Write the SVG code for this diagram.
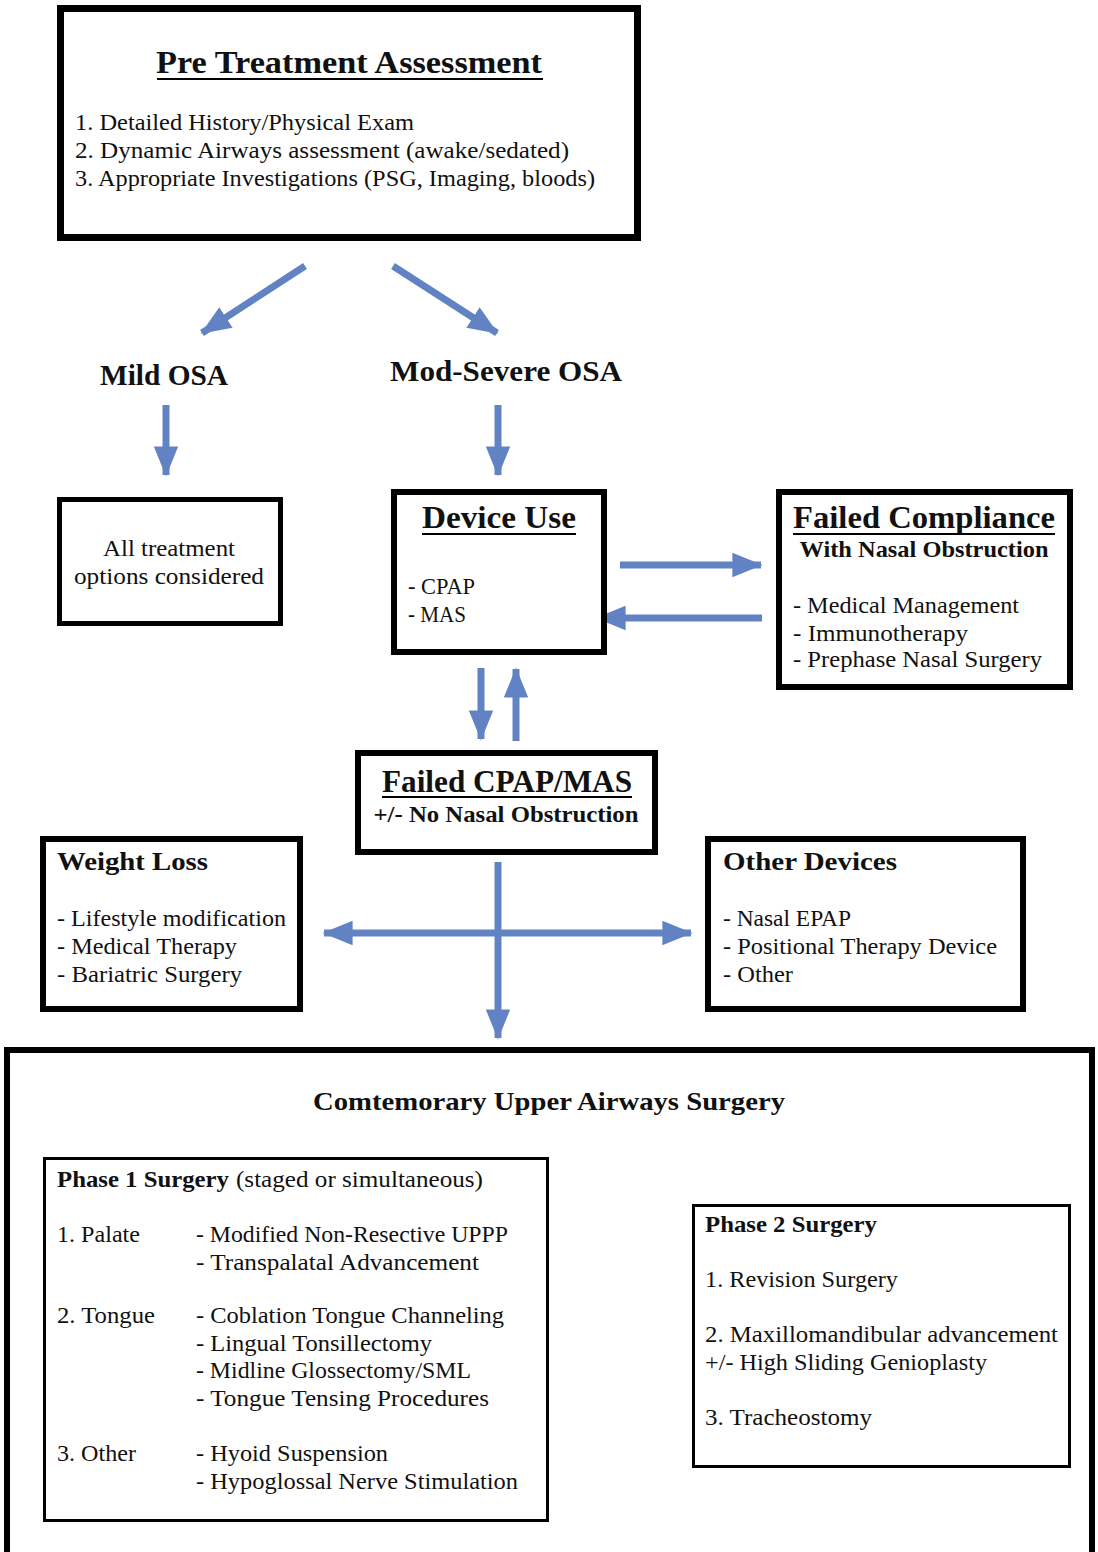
<svg xmlns="http://www.w3.org/2000/svg" width="1098" height="1552" viewBox="0 0 1098 1552">
<style>
text{font-family:"Liberation Serif","Times New Roman",serif;fill:#111}
.b{font-weight:bold}
.box{fill:#fff;stroke:#000}
.t{font-size:24px}
.h{font-size:32px;font-weight:bold}
.arr{stroke:#6283c3;stroke-width:7;fill:none;marker-end:url(#ah)}
</style>
<defs>
<marker id="ah" viewBox="0 0 10 10" preserveAspectRatio="none" refX="9.5" refY="5" markerWidth="4.3" markerHeight="3.5" orient="auto-start-reverse" markerUnits="strokeWidth">
<path d="M0,0 L10,5 L0,10 z" fill="#6283c3"/>
</marker>
</defs>
<rect width="1098" height="1552" fill="#fff"/>

<g id="connectors">
<path class="arr" d="M305,266 L202,333"/>
<path class="arr" d="M393,266 L497,333"/>
<path class="arr" d="M166,405 L166,475"/>
<path class="arr" d="M498,405 L498,475"/>
<path class="arr" d="M620,565 L761,565"/>
<path class="arr" d="M762,618 L597,618"/>
<path class="arr" d="M481,668 L481,739"/>
<path class="arr" d="M516,741 L516,669"/>
<path class="arr" d="M498,862 L498,1038"/>
<path class="arr" d="M498,933 L691,933"/>
<path class="arr" d="M498,933 L324,933"/>
<path class="arr" d="M568,1336 L673,1336"/>
</g>

<g id="pre-treatment">
<rect class="box" x="60.5" y="8.5" width="577" height="229" stroke-width="7"/>
<text class="h" x="349" y="73" text-anchor="middle" textLength="386" lengthAdjust="spacingAndGlyphs">Pre Treatment Assessment</text>
<line x1="157" y1="79" x2="543" y2="79" stroke="#000" stroke-width="2"/>
<text class="t" x="75" y="130" textLength="339" lengthAdjust="spacingAndGlyphs">1. Detailed History/Physical Exam</text>
<text class="t" x="75" y="158" textLength="494" lengthAdjust="spacingAndGlyphs">2. Dynamic Airways assessment (awake/sedated)</text>
<text class="t" x="75" y="186" textLength="520" lengthAdjust="spacingAndGlyphs">3. Appropriate Investigations (PSG, Imaging, bloods)</text>
</g>

<g id="mild-osa">
<text class="b" x="100" y="385" font-size="30" textLength="128" lengthAdjust="spacingAndGlyphs">Mild OSA</text>
</g>
<g id="mod-severe-osa">
<text class="b" x="390" y="381" font-size="30" textLength="232" lengthAdjust="spacingAndGlyphs">Mod-Severe OSA</text>
</g>

<g id="all-treatment">
<rect class="box" x="59.5" y="499.5" width="221" height="124" stroke-width="5"/>
<text class="t" x="169" y="556" text-anchor="middle" textLength="132" lengthAdjust="spacingAndGlyphs">All treatment</text>
<text class="t" x="169" y="584" text-anchor="middle" textLength="190" lengthAdjust="spacingAndGlyphs">options considered</text>
</g>

<g id="device-use">
<rect class="box" x="394" y="492" width="210" height="160" stroke-width="6"/>
<text class="h" x="499" y="528" text-anchor="middle" textLength="154" lengthAdjust="spacingAndGlyphs">Device Use</text>
<line x1="422" y1="534" x2="576" y2="534" stroke="#000" stroke-width="2"/>
<text class="t" x="408" y="594" textLength="67" lengthAdjust="spacingAndGlyphs">- CPAP</text>
<text class="t" x="408" y="622" textLength="58" lengthAdjust="spacingAndGlyphs">- MAS</text>
</g>

<g id="failed-compliance">
<rect class="box" x="779" y="492" width="291" height="195" stroke-width="6"/>
<text class="h" x="924" y="528" text-anchor="middle" textLength="262" lengthAdjust="spacingAndGlyphs">Failed Compliance</text>
<line x1="793" y1="534" x2="1055" y2="534" stroke="#000" stroke-width="2"/>
<text class="b" x="924" y="557" font-size="23" text-anchor="middle" textLength="249" lengthAdjust="spacingAndGlyphs">With Nasal Obstruction</text>
<text class="t" x="793" y="613" textLength="226" lengthAdjust="spacingAndGlyphs">- Medical Management</text>
<text class="t" x="793" y="641" textLength="175" lengthAdjust="spacingAndGlyphs">- Immunotherapy</text>
<text class="t" x="793" y="667" textLength="249" lengthAdjust="spacingAndGlyphs">- Prephase Nasal Surgery</text>
</g>

<g id="failed-cpap">
<rect class="box" x="358" y="753" width="297" height="99" stroke-width="6"/>
<text class="h" x="507" y="792" text-anchor="middle" textLength="250" lengthAdjust="spacingAndGlyphs">Failed CPAP/MAS</text>
<line x1="382" y1="797" x2="632" y2="797" stroke="#000" stroke-width="2"/>
<text class="b" x="506" y="822" font-size="24" text-anchor="middle" textLength="265" lengthAdjust="spacingAndGlyphs">+/- No Nasal Obstruction</text>
</g>

<g id="weight-loss">
<rect class="box" x="43" y="839" width="257" height="170" stroke-width="6"/>
<text class="b" x="57" y="870" font-size="26" textLength="151" lengthAdjust="spacingAndGlyphs">Weight Loss</text>
<text class="t" x="57" y="926" textLength="229" lengthAdjust="spacingAndGlyphs">- Lifestyle modification</text>
<text class="t" x="57" y="954" textLength="180" lengthAdjust="spacingAndGlyphs">- Medical Therapy</text>
<text class="t" x="57" y="982" textLength="185" lengthAdjust="spacingAndGlyphs">- Bariatric Surgery</text>
</g>

<g id="other-devices">
<rect class="box" x="708" y="839" width="315" height="170" stroke-width="6"/>
<text class="b" x="723" y="870" font-size="26" textLength="174" lengthAdjust="spacingAndGlyphs">Other Devices</text>
<text class="t" x="723" y="926" textLength="128" lengthAdjust="spacingAndGlyphs">- Nasal EPAP</text>
<text class="t" x="723" y="954" textLength="274" lengthAdjust="spacingAndGlyphs">- Positional Therapy Device</text>
<text class="t" x="723" y="982" textLength="70" lengthAdjust="spacingAndGlyphs">- Other</text>
</g>

<g id="surgery">
<path d="M7,1552 L7,1050 L1092,1050 L1092,1552" fill="#fff" stroke="#000" stroke-width="6"/>
<text class="b" x="549" y="1110" font-size="25" text-anchor="middle" textLength="472" lengthAdjust="spacingAndGlyphs">Comtemorary Upper Airways Surgery</text>
</g>

<g id="phase1">
<rect class="box" x="44.5" y="1158.5" width="503" height="362" stroke-width="3"/>
<text class="b" x="57" y="1187" font-size="23" textLength="172" lengthAdjust="spacingAndGlyphs">Phase 1 Surgery</text>
<text x="236" y="1187" font-size="23" textLength="247" lengthAdjust="spacingAndGlyphs">(staged or simultaneous)</text>
<text class="t" x="57" y="1242" textLength="83" lengthAdjust="spacingAndGlyphs">1. Palate</text>
<text class="t" x="196" y="1242" textLength="312" lengthAdjust="spacingAndGlyphs">- Modified Non-Resective UPPP</text>
<text class="t" x="196" y="1270" textLength="283" lengthAdjust="spacingAndGlyphs">- Transpalatal Advancement</text>
<text class="t" x="57" y="1323" textLength="98" lengthAdjust="spacingAndGlyphs">2. Tongue</text>
<text class="t" x="196" y="1323" textLength="308" lengthAdjust="spacingAndGlyphs">- Coblation Tongue Channeling</text>
<text class="t" x="196" y="1351" textLength="236" lengthAdjust="spacingAndGlyphs">- Lingual Tonsillectomy</text>
<text class="t" x="196" y="1378" textLength="275" lengthAdjust="spacingAndGlyphs">- Midline Glossectomy/SML</text>
<text class="t" x="196" y="1406" textLength="293" lengthAdjust="spacingAndGlyphs">- Tongue Tensing Procedures</text>
<text class="t" x="57" y="1461" textLength="79" lengthAdjust="spacingAndGlyphs">3. Other</text>
<text class="t" x="196" y="1461" textLength="192" lengthAdjust="spacingAndGlyphs">- Hyoid Suspension</text>
<text class="t" x="196" y="1489" textLength="322" lengthAdjust="spacingAndGlyphs">- Hypoglossal Nerve Stimulation</text>
</g>

<g id="phase2">
<rect class="box" x="693.5" y="1205.5" width="376" height="261" stroke-width="3"/>
<text class="b" x="705" y="1232" font-size="23" textLength="172" lengthAdjust="spacingAndGlyphs">Phase 2 Surgery</text>
<text class="t" x="705" y="1287" textLength="193" lengthAdjust="spacingAndGlyphs">1. Revision Surgery</text>
<text class="t" x="705" y="1342" textLength="353" lengthAdjust="spacingAndGlyphs">2. Maxillomandibular advancement</text>
<text class="t" x="705" y="1370" textLength="282" lengthAdjust="spacingAndGlyphs">+/- High Sliding Genioplasty</text>
<text class="t" x="705" y="1425" textLength="167" lengthAdjust="spacingAndGlyphs">3. Tracheostomy</text>
</g>
</svg>
